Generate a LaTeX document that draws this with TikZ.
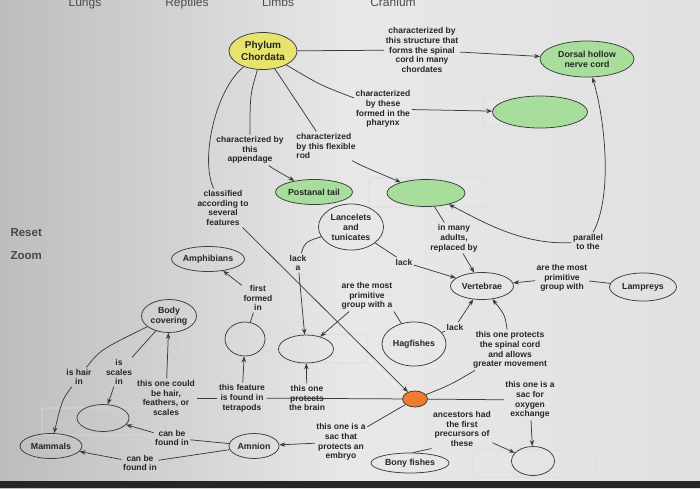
\documentclass[tikz,border=0pt]{standalone}
\usepackage{fontspec}
\setmainfont{Liberation Sans}
\usetikzlibrary{shapes.geometric,arrows.meta}
\definecolor{chordyellow}{HTML}{E4E46E}
\definecolor{featgreen}{HTML}{A8DE9C}
\definecolor{vertorange}{HTML}{EE7B2F}
\definecolor{inkgray}{HTML}{3C3C3C}

\begin{document}
\begin{tikzpicture}[x=1pt,y=-1pt,
    concept/.style={ellipse,draw=inkgray,line width=0.75pt,inner sep=0pt,align=center,
        font=\fontsize{8.8}{10}\selectfont\bfseries,text=black!85},
    linklabel/.style={align=center,inner sep=1.5pt,font=\fontsize{8.5}{9.8}\selectfont\bfseries,text=black!85},
    link/.style={draw=inkgray,line width=0.75pt},
    linkarrow/.style={link,-{Stealth[length=6pt,width=4.5pt]}},
    selbox/.style={draw=black!14,line width=0.6pt,rounded corners=2pt},
    menu/.style={font=\fontsize{12}{14}\selectfont,text=black!70,anchor=base}]
        % screen photo
        \useasboundingbox (0,0) rectangle (700,488);
        \clip (0,0) rectangle (700,488);
        \shade[left color=black!26,right color=black!12,middle color=black!9] (0,0) rectangle (700,488);
        \fill[black!85] (0,481) rectangle (700,488);
        \node[menu] (lungs) at (85,6) {Lungs};
        \node[menu] (reptiles) at (187,6) {Reptiles};
        \node[menu] (limbs) at (278,6) {Limbs};
        \node[menu] (cranium) at (393,6) {Cranium};
        \node[font=\fontsize{11.5}{13}\selectfont\bfseries,text=black!72,anchor=west] (reset) at (7,233) {Reset};
        \node[font=\fontsize{11.5}{13}\selectfont\bfseries,text=black!72,anchor=west] (zoom) at (7,256) {Zoom};

        \draw[selbox] (483,98) rectangle (604,126);
        \draw[selbox] (369,178) rectangle (488,207);
        \draw[selbox] (183,322) rectangle (302,352);
        \draw[selbox] (248,334) rectangle (367,363);
        \draw[selbox] (42,408) rectangle (160,435);
        \draw[selbox] (473,450) rectangle (597,477);

        % concepts
        \node[concept,fill=chordyellow,minimum width=68pt,minimum height=37pt,font=\fontsize{10}{12}\selectfont\bfseries] (chordata) at (263,51) {Phylum\\Chordata};
        \node[concept,fill=featgreen,minimum width=94pt,minimum height=36pt] (nervecord) at (587,59) {Dorsal hollow\\nerve cord};
        \node[concept,fill=featgreen,minimum width=95pt,minimum height=32pt] (gillslits) at (540,112) {};
        \node[concept,fill=featgreen,minimum width=77pt,minimum height=25pt] (tail) at (314,192) {Postanal tail};
        \node[concept,fill=featgreen,minimum width=78pt,minimum height=27pt] (notochord) at (426,193) {};
        \node[concept,minimum width=65pt,minimum height=46pt] (lancelets) at (351,227) {Lancelets\\and\\tunicates};
        \node[concept,minimum width=63pt,minimum height=27pt] (vertebrae) at (482,286) {Vertebrae};
        \node[concept,minimum width=67pt,minimum height=28pt] (lampreys) at (643,287) {Lampreys};
        \node[concept,minimum width=73pt,minimum height=25pt] (amphibians) at (208,259) {Amphibians};
        \node[concept,minimum width=55pt,minimum height=33pt] (body) at (169,316) {Body\\covering};
        \node[concept,minimum width=40pt,minimum height=34pt] (limbcirc) at (245,339) {};
        \node[concept,minimum width=55pt,minimum height=28pt] (cranialcirc) at (306,349) {};
        \node[concept,minimum width=64pt,minimum height=44pt] (hagfishes) at (414,344) {Hagfishes};
        \node[concept,fill=vertorange,minimum width=25pt,minimum height=16pt] (vertebrates) at (415,399) {};
        \node[concept,minimum width=52pt,minimum height=27pt] (reptcirc) at (103,418) {};
        \node[concept,minimum width=62pt,minimum height=25pt] (mammals) at (51,446) {Mammals};
        \node[concept,minimum width=50pt,minimum height=25pt] (amnion) at (254,446) {Amnion};
        \node[concept,minimum width=78pt,minimum height=20pt] (bonyfish) at (410,463) {Bony fishes};
        \node[concept,minimum width=43pt,minimum height=29pt] (lungcirc) at (533,461) {};

        % linking phrases
        \node[linklabel] (lbl_nerve) at (422,50) {characterized by\\this structure that\\forms the spinal\\cord in many\\chordates};
        \node[linklabel] (lbl_pharynx) at (383,109) {characterized\\by these\\formed in the\\pharynx};
        \node[linklabel] (lbl_append) at (250,150) {characterized by\\this\\appendage};
        \node[linklabel,align=left] (lbl_rod) at (326,146) {characterized\\by this flexible\\rod};
        \node[linklabel] (lbl_classified) at (223,208) {classified\\according to\\several\\features};
        \node[linklabel] (lbl_lacka) at (298,263) {lack\\a};
        \node[linklabel] (lbl_lack1) at (404,262) {lack};
        \node[linklabel] (lbl_replaced) at (454,238) {in many\\adults,\\replaced by};
        \node[linklabel] (lbl_parallel) at (588,242) {parallel\\to the};
        \node[linklabel] (lbl_primlamp) at (562,278) {are the most\\primitive\\group with};
        \node[linklabel] (lbl_primhag) at (367,296) {are the most\\primitive\\group with a};
        \node[linklabel] (lbl_lack2) at (455,327) {lack};
        \node[linklabel] (lbl_spinal) at (510,350) {this one protects\\the spinal cord\\and allows\\greater movement};
        \node[linklabel] (lbl_oxygen) at (530,400) {this one is a\\sac for\\oxygen\\exchange};
        \node[linklabel] (lbl_ancestors) at (462,429) {ancestors had\\the first\\precursors of\\these};
        \node[linklabel] (lbl_embryo) at (341,442) {this one is a\\sac that\\protects an\\embryo};
        \node[linklabel] (lbl_brain) at (307,398) {this one\\protects\\the brain};
        \node[linklabel] (lbl_tetra) at (242,398) {this feature\\is found in\\tetrapods};
        \node[linklabel] (lbl_hair) at (166,398) {this one could\\be hair,\\feathers, or\\scales};
        \node[linklabel] (lbl_ishair) at (79,377) {is hair\\in};
        \node[linklabel] (lbl_isscales) at (119,372) {is\\scales\\in};
        \node[linklabel] (lbl_found1) at (172,438) {can be\\found in};
        \node[linklabel] (lbl_found2) at (140,463) {can be\\found in};
        \node[linklabel] (lbl_first) at (258,298) {first\\formed\\in};

        % connectors
        \draw[link] (chordata) -- (lbl_nerve);
        \draw[linkarrow] (lbl_nerve) -- (nervecord);
        \draw[link] (chordata) .. controls (320,85) .. (lbl_pharynx);
        \draw[linkarrow] (lbl_pharynx) -- (gillslits);
        \draw[link] (chordata) .. controls (250,95) .. (lbl_append);
        \draw[linkarrow] (lbl_append) .. controls (272,168) .. (tail);
        \draw[link] (chordata) -- (lbl_rod);
        \draw[linkarrow] (lbl_rod) .. controls (360,165) .. (notochord);
        \draw[link] (chordata) .. controls (215,90) and (200,160) .. (lbl_classified);
        \draw[linkarrow] (lbl_classified) -- (vertebrates);
        \draw[link] (lancelets) .. controls (305,242) .. (lbl_lacka);
        \draw[linkarrow] (lbl_lacka) -- (cranialcirc);
        \draw[link] (lancelets) -- (lbl_lack1);
        \draw[linkarrow] (lbl_lack1) -- (vertebrae);
        \draw[link] (notochord) -- (lbl_replaced);
        \draw[linkarrow] (lbl_replaced) -- (vertebrae);
        \draw[linkarrow] (lbl_parallel) .. controls (520,245) and (480,220) .. (notochord);
        \draw[linkarrow] (lbl_parallel) .. controls (613,195) and (605,120) .. (nervecord);
        \draw[link] (lampreys) -- (lbl_primlamp);
        \draw[linkarrow] (lbl_primlamp) -- (vertebrae);
        \draw[link] (hagfishes) -- (lbl_primhag.south east);
        \draw[linkarrow] (lbl_primhag) -- (cranialcirc);
        \draw[link] (hagfishes) -- (lbl_lack2);
        \draw[linkarrow] (lbl_lack2) -- (vertebrae);
        \draw[link] (vertebrates) .. controls (450,385) .. (lbl_spinal);
        \draw[linkarrow] (lbl_spinal) .. controls (505,315) .. (vertebrae);
        \draw[link] (vertebrates) -- (lbl_oxygen);
        \draw[linkarrow] (lbl_oxygen) -- (lungcirc);
        \draw[link] (bonyfish.75) -- (lbl_ancestors.south west);
        \draw[linkarrow] (lbl_ancestors) -- (lungcirc);
        \draw[link] (vertebrates) -- (lbl_embryo);
        \draw[linkarrow] (lbl_embryo) -- (amnion);
        \draw[link] (vertebrates) -- (lbl_tetra);
        \draw[link] (lbl_tetra) -- (lbl_hair);
        \draw[linkarrow] (lbl_brain) -- (cranialcirc);
        \draw[linkarrow] (lbl_tetra) -- (limbcirc);
        \draw[linkarrow] (lbl_hair) -- (body);
        \draw[link] (body) .. controls (100,350) .. (lbl_ishair);
        \draw[linkarrow] (lbl_ishair) .. controls (62,400) .. (mammals);
        \draw[link] (body) -- (lbl_isscales);
        \draw[linkarrow] (lbl_isscales) -- (reptcirc);
        \draw[link] (amnion) -- (lbl_found1);
        \draw[linkarrow] (lbl_found1) -- (reptcirc);
        \draw[link] (amnion) -- (lbl_found2);
        \draw[linkarrow] (lbl_found2) -- (mammals);
        \draw[link] (limbcirc) -- (lbl_first);
        \draw[linkarrow] (lbl_first) -- (amphibians);
\end{tikzpicture}
\end{document}
